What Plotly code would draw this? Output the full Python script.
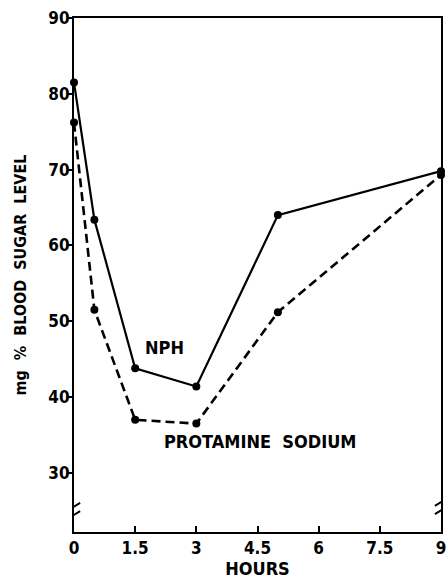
import plotly.graph_objects as go

hours = [0, 0.5, 1.5, 3, 5, 9]
nph = [81.5, 63.4, 43.8, 41.4, 64.0, 69.8]
protamine_sodium = [76.2, 51.5, 37.0, 36.5, 51.2, 69.3]

x_ticks = [0, 1.5, 3, 4.5, 6, 7.5, 9]
x_tick_labels = ["0", "1.5", "3", "4.5", "6", "7.5", "9"]
y_ticks = [30, 40, 50, 60, 70, 80, 90]
y_tick_labels = ["30", "40", "50", "60", "70", "80", "90"]

FONT = "Liberation Sans Narrow, DejaVu Sans Condensed, Arial Narrow, sans-serif"

fig = go.Figure()
fig.add_trace(go.Scatter(
    x=hours, y=protamine_sodium, mode="lines+markers", name="PROTAMINE SODIUM",
    line=dict(color="black", width=2.6, dash="9px,5px"),
    marker=dict(color="black", size=8), cliponaxis=False))
fig.add_trace(go.Scatter(
    x=hours, y=nph, mode="lines+markers", name="NPH",
    line=dict(color="black", width=2.2),
    marker=dict(color="black", size=8), cliponaxis=False))

fig.add_annotation(x=2.23, y=46.5, text="<b>NPH</b>", showarrow=False,
                   font=dict(family=FONT, size=18, color="black"))
fig.add_annotation(x=4.56, y=34.1, text="<b>PROTAMINE  SODIUM</b>", showarrow=False,
                   font=dict(family=FONT, size=18, color="black"))

# axis break marks
for xb, yb in [(0, 25.0), (9, 25.6)]:
    fig.add_shape(type="line", xref="x", yref="y", x0=xb, x1=xb,
                  y0=yb - 0.45, y1=yb + 0.45, line=dict(color="white", width=5), layer="above")
    for dy in (-0.55, 0.55):
        fig.add_shape(type="line", xref="x", yref="y",
                      x0=xb - 0.15, x1=xb + 0.15, y0=yb + dy - 0.5, y1=yb + dy + 0.5,
                      line=dict(color="black", width=2), layer="above")

fig.update_layout(
    width=448, height=581,
    margin=dict(l=74, r=7, t=18, b=49, autoexpand=False),
    plot_bgcolor="white", paper_bgcolor="white",
    showlegend=False,
    font=dict(family=FONT, color="black"),
)
fig.update_xaxes(
    range=[0, 9], tickvals=x_ticks, ticktext=x_tick_labels,
    ticks="inside", ticklen=6, tickwidth=2, tickcolor="black",
    ticklabeloverflow="allow",
    showline=True, linecolor="black", linewidth=2, mirror=True,
    showgrid=False, zeroline=False,
    tickfont=dict(family=FONT, size=17, color="black", weight="bold"),
    title=dict(text="<b>HOURS</b>", font=dict(family=FONT, size=18), standoff=4),
    automargin=False,
)
fig.update_yaxes(
    range=[22.2, 90], tickvals=y_ticks, ticktext=y_tick_labels,
    ticks="outside", ticklen=5, tickwidth=2, tickcolor="black",
    ticklabelstandoff=-6,
    showline=True, linecolor="black", linewidth=2, mirror=True,
    showgrid=False, zeroline=False,
    tickfont=dict(family=FONT, size=17, color="black", weight="bold"),
    title=dict(text="<b>mg  %  BLOOD  SUGAR  LEVEL</b>", font=dict(family=FONT, size=16), standoff=18),
    automargin=False,
)

fig.write_html(
    "out.html",
    config={"displayModeBar": False},
    post_script="document.body.style.margin='0';document.body.style.overflow='hidden';",
)
